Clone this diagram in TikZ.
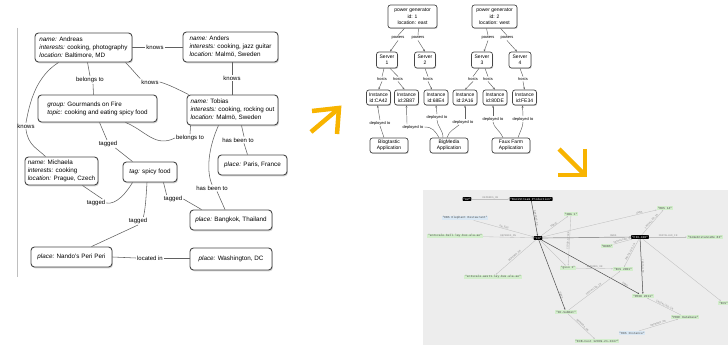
\documentclass[tikz,border=0pt]{standalone}
\usepackage{fontspec}
\setmainfont{Liberation Sans}
\setmonofont{Liberation Mono}
\usetikzlibrary{shadows,arrows.meta,calc}
\definecolor{amber}{HTML}{F8B400}
\definecolor{rgreen}{HTML}{D3EECC}
\definecolor{rblue}{HTML}{DAE8F4}
\definecolor{rbg}{HTML}{EDEDED}
\begin{document}
\begin{tikzpicture}[x=1pt,y=-1pt,
 lbox/.style={draw=black!72, line width=0.9pt, rounded corners=3.5pt, fill=white, drop shadow={opacity=0.35, shadow xshift=0.9pt, shadow yshift=-1.3pt}, font=\fontsize{6.3}{8}\selectfont, align=left, inner sep=1.5pt},
 llab/.style={font=\fontsize{6}{6.5}\selectfont, inner sep=1pt},
 led/.style={draw=black!62, line width=0.55pt},
 mbox/.style={draw=black!72, line width=0.7pt, rounded corners=2.5pt, fill=white, drop shadow={opacity=0.35, shadow xshift=0.7pt, shadow yshift=-1pt}, font=\fontsize{5}{6.1}\selectfont, align=center, inner sep=1pt},
 mlab/.style={font=\fontsize{4}{4.5}\selectfont, inner sep=0.8pt},
 med/.style={draw=black!62, line width=0.45pt},
 marr/.style={med, -{Stealth[length=2.4pt,width=1.8pt]}},
 rnode/.style={font=\fontsize{3}{3.4}\ttfamily, inner sep=0.8pt},
 rblack/.style={rnode, fill=black, text=white, rounded corners=0.6pt},
 rgr/.style={rnode, fill=rgreen, text=black!70},
 rbl/.style={rnode, fill=rblue, text=black!70},
 rline/.style={draw=black!25, line width=0.35pt, -{Stealth[length=1.6pt,width=1.2pt]}},
 rdark/.style={draw=black!70, line width=0.5pt, -{Stealth[length=1.8pt,width=1.4pt]}},
 rlab/.style={font=\fontsize{2.6}{2.8}\ttfamily, text=black!45, inner sep=0.3pt, sloped, above},
 amb/.style={draw=amber, line width=4.5pt, line join=miter, line cap=butt}
]
\useasboundingbox (0,0) rectangle (728,347);
\fill[white] (0,0) rectangle (728,347);
\draw[black!25, line width=0.6pt] (17,28) -- (17,277);

% ---------- left graph ----------
\node[lbox, minimum width=97pt, minimum height=29pt] (andreas) at (83.5,47.5) {\textit{name:} Andreas\\\textit{interests:} cooking, photography\\\textit{location:} Baltimore, MD};
\node[lbox, minimum width=95pt, minimum height=30pt] (anders) at (230.5,47) {\textit{name:} Anders\\\textit{interests:} cooking, jazz guitar\\\textit{location:} Malmö, Sweden};
\node[lbox, minimum width=119pt, minimum height=27pt] (group) at (97.5,108.5) {\textit{group:} Gourmands on Fire\\\textit{topic:} cooking and eating spicy food};
\node[lbox, minimum width=91pt, minimum height=30pt] (tobias) at (232.5,110) {\textit{name:} Tobias\\\textit{interests:} cooking, rocking out\\\textit{location:} Malmö, Sweden};
\node[lbox, minimum width=73pt, minimum height=28pt] (michaela) at (61.5,171) {\textit{name:} Michaela\\\textit{interests:} cooking\\\textit{location:} Prague, Czech};
\node[lbox, minimum width=54pt, minimum height=20pt] (tag) at (150,172) {\textit{tag:} spicy food};
\node[lbox, minimum width=69pt, minimum height=20pt] (paris) at (252.5,165) {\textit{place:} Paris, France};
\node[lbox, minimum width=82pt, minimum height=20pt] (bangkok) at (231,220) {\textit{place:} Bangkok, Thailand};
\node[lbox, minimum width=81pt, minimum height=20pt] (nandos) at (71.5,257) {\textit{place:} Nando's Peri Peri};
\node[lbox, minimum width=82pt, minimum height=22pt] (washington) at (231,259) {\textit{place:} Washington, DC};

\node[llab] (k1) at (155,47) {knows};
\node[llab] (bel1) at (90,80) {belongs to};
\node[llab] (k2) at (150,82) {knows};
\node[llab] (k3) at (232,78) {knows};
\node[llab] (k4) at (26,126) {knows};
\node[llab] (tg1) at (108,144) {tagged};
\node[llab] (bel2) at (190,138) {belongs to};
\node[llab] (hb1) at (238,140) {has been to};
\node[llab] (hb2) at (212,188) {has been to};
\node[llab] (tg2) at (173,199) {tagged};
\node[llab] (tg3) at (96,203) {tagged};
\node[llab] (tg4) at (138,221) {tagged};
\node[llab] (loc) at (150,258) {located in};

\draw[led] (k1.west -| andreas.east) -- (k1.west) (k1.east) -- (k1.east -| anders.west);
\draw[led] ([xshift=4pt]andreas.south) -- (bel1.north);
\draw[led] ([xshift=3pt]bel1.south) -- ([xshift=-4pt]group.north);
\draw[led] ([xshift=-7pt]andreas.south east) .. controls +(6,6) and +(-4,-4) .. (k2.north west);
\draw[led] (k2.east) .. controls +(8,2) and +(-8,-4) .. ([xshift=2pt]tobias.north west);
\draw[led] (k3.north) -- (k3.north |- anders.south);
\draw[led] (k3.south) -- (k3.south |- tobias.north);
\draw[led] ([xshift=24pt]andreas.south west) .. controls +(-22,14) and +(4,-22) .. (k4.north);
\draw[led] (k4.south) .. controls +(2,16) and +(-8,-8) .. ([xshift=-16pt]michaela.north);
\draw[led] ([xshift=2pt]group.south) -- ([xshift=-1pt]tg1.north);
\draw[led] ([xshift=-3pt]tg1.south east) -- ([xshift=10pt]tag.north west);
\draw[led] ([xshift=-32pt]group.south east) .. controls +(20,8) and +(-20,10) .. (bel2.west);
\draw[led] (bel2.north) -- ([xshift=4pt]tobias.south west);
\draw[led] ([xshift=9pt]tobias.south) -- ([xshift=6pt]hb1.north);
\draw[led] ([xshift=6pt]hb1.south) -- ([xshift=-5pt]paris.north);
\draw[led] ([xshift=-14pt]tobias.south) .. controls +(-10,22) and +(-6,-14) .. (hb2.north);
\draw[led] ([xshift=5pt]hb2.south) -- ([xshift=-6pt]bangkok.north);
\draw[led] ([xshift=-14pt]tag.south east) -- ([xshift=4pt]tg2.north west);
\draw[led] (tg2.east) -- ([xshift=12pt]bangkok.north west);
\draw[led] ([xshift=-16pt]michaela.south east) -- ([xshift=-4pt]tg3.north east);
\draw[led] (tg3.east) .. controls +(10,2) and +(-6,10) .. ([xshift=10pt]tag.south west);
\draw[led] ([xshift=-3pt]tag.south) .. controls +(-1,16) and +(2,-8) .. ([xshift=-5pt]tg4.north east);
\draw[led] (tg4.south) -- ([xshift=20pt]nandos.north);
\draw[led] (nandos.east) -- (loc.west);
\draw[led] (loc.east) -- (loc.east -| washington.west);

% ---------- orange arrows ----------
\draw[amb] (312,111) -- (339,108) -- (337,134);
\draw[amb] (311,132) -- (337,110);
\draw[amb] (585,149) -- (585,175) -- (558,175);
\draw[amb] (559,149) -- (583,173);

% ---------- middle graph ----------
\node[mbox, minimum width=49pt, minimum height=23pt] (pg1) at (412.5,16.5) {power generator\\id: 1\\location: east};
\node[mbox, minimum width=45pt, minimum height=23pt] (pg2) at (494.5,16.5) {power generator\\id: 2\\location: west};
\node[mbox, minimum width=21pt, minimum height=16pt] (s1) at (387,60) {Server\\1};
\node[mbox, minimum width=21pt, minimum height=16pt] (s2) at (425,60) {Server\\2};
\node[mbox, minimum width=21pt, minimum height=16pt] (s3) at (482,60) {Server\\3};
\node[mbox, minimum width=22pt, minimum height=16pt] (s4) at (520,60) {Server\\4};
\node[mbox, minimum width=24pt, minimum height=15pt] (ca) at (378.5,97.5) {Instance\\id:CA42};
\node[mbox, minimum width=24pt, minimum height=15pt] (bb) at (406.5,97.5) {Instance\\id:2B87};
\node[mbox, minimum width=24pt, minimum height=15pt] (ee) at (436,97.5) {Instance\\id:68E4};
\node[mbox, minimum width=24pt, minimum height=15pt] (aa) at (465,97.5) {Instance\\id:2A16};
\node[mbox, minimum width=24pt, minimum height=15pt] (dd) at (495,97.5) {Instance\\id:80DE};
\node[mbox, minimum width=24pt, minimum height=15pt] (ff) at (524.5,97.5) {Instance\\id:FE34};
\node[mbox, minimum width=38pt, minimum height=15pt] (blog) at (389,145.5) {Blogtastic\\Application};
\node[mbox, minimum width=38pt, minimum height=15pt] (big) at (449,145.5) {BigMedia\\Application};
\node[mbox, minimum width=38pt, minimum height=15pt] (faux) at (511,145.5) {Faux Farm\\Application};

\node[mlab] (p1) at (398,38) {powers};
\node[mlab] (p2) at (418,38) {powers};
\node[mlab] (p3) at (488,38) {powers};
\node[mlab] (p4) at (507,38) {powers};
\node[mlab] (h1) at (382,79) {hosts};
\node[mlab] (h2) at (398,79) {hosts};
\node[mlab] (h3) at (428,79) {hosts};
\node[mlab] (h4) at (473,79) {hosts};
\node[mlab] (h5) at (488,79) {hosts};
\node[mlab] (h6) at (523,79) {hosts};
\node[mlab] (d1) at (380,123) {deployed to};
\node[mlab] (d2) at (413,127) {deployed to};
\node[mlab] (d3) at (437,117) {deployed to};
\node[mlab] (d4) at (463,122) {deployed to};
\node[mlab] (d5) at (493,119) {deployed to};
\node[mlab] (d6) at (523,119) {deployed to};

\draw[med] ([xshift=-8pt]pg1.south) -- (p1.north);
\draw[marr] (p1.south) -- ([xshift=3pt]s1.north);
\draw[med] ([xshift=6pt]pg1.south) -- (p2.north);
\draw[marr] (p2.south) -- (s2.north);
\draw[med] ([xshift=-8pt]pg2.south) -- (p3.north);
\draw[marr] (p3.south) -- ([xshift=2pt]s3.north);
\draw[med] ([xshift=6pt]pg2.south) -- (p4.north);
\draw[marr] (p4.south) -- ([xshift=-3pt]s4.north);

\draw[med] ([xshift=-3pt]s1.south) -- (h1.north);
\draw[marr] (h1.south) -- (ca.north);
\draw[med] ([xshift=3pt]s1.south) -- (h2.north);
\draw[marr] (h2.south) -- ([xshift=-2pt]bb.north);
\draw[med] (s2.south) -- (h3.north);
\draw[marr] (h3.south) -- ([xshift=-4pt]ee.north);
\draw[med] ([xshift=-3pt]s3.south) -- (h4.north);
\draw[marr] (h4.south) -- (aa.north);
\draw[med] ([xshift=3pt]s3.south) -- (h5.north);
\draw[marr] (h5.south) -- (dd.north);
\draw[med] (s4.south) -- (h6.north);
\draw[marr] (h6.south) -- (ff.north);

\draw[med] ([xshift=-5pt]blog.north) -- (d1.south);
\draw[marr] (d1.north) -- ([xshift=-1pt]ca.south);
\draw[med] ([xshift=-10pt]big.north) .. controls +(-4,-7) and +(8,0) .. (d2.east);
\draw[marr] ([xshift=-6pt]d2.north) .. controls +(0,-6) and +(0,8) .. (bb.south);
\draw[med] ([xshift=-6pt]big.north) .. controls +(0,-8) and +(0,6) .. (d3.south);
\draw[marr] (d3.north) -- (ee.south);
\draw[med] ([xshift=-2pt]big.north) .. controls +(2,-7) and +(-4,4) .. ([xshift=-4pt]d4.south);
\draw[marr] ([xshift=2pt]d4.north) -- (aa.south);
\draw[med] ([xshift=-8pt]faux.north) .. controls +(-2,-6) and +(0,5) .. (d5.south);
\draw[marr] (d5.north) -- ([xshift=-2pt]dd.south);
\draw[med] ([xshift=7pt]faux.north) .. controls +(2,-6) and +(0,5) .. (d6.south);
\draw[marr] (d6.north) -- ([xshift=-2pt]ff.south);

% ---------- right graph ----------
\begin{scope}
\clip (423,190) rectangle (728,345);
\fill[rbg] (423,190) rectangle (728,345);
\node[rblack] (rAZ) at (467,199) {"AZ"};
\node[rblack] (rBook) at (531,199) {"BookStream Production"};
\node[rbl] (rEBS) at (465,218) {"EBS Elephant Restaurant"};
\node[rgr] (rBell) at (455,236) {"ec2scale-bell.lay.bus.ala.ae"};
\node[rblack] (rC) at (538,238) {"IO"};
\node[rgr] (rSBG) at (571,214) {"SBG 1"};
\node[rgr] (rRDS14) at (665,208) {"RDS 14"};
\node[rblack] (rFIX) at (640,237) {"FIX-C2D"};
\node[rgr] (rSome) at (705,237) {"SomeInstanceRe 83"};
\node[rgr] (rBOBS) at (607,246) {"BOBS"};
\node[rgr] (rWest) at (493,277) {"ec2scale-west1.lay.bus.ala.ae"};
\node[rgr] (rGsso) at (568,268) {"gsso 1"};
\node[rgr] (rECS) at (623,269) {"ECS 2001"};
\node[rgr] (rProd) at (643,296) {"PROD 2011"};
\node[rgr] (rSub) at (566,312) {"ID-SubNet"};
\node[rgr] (rProf) at (685,317) {"PROF Database"};
\node[rbl] (rRDSi) at (632,333) {"RDS Instance"};
\node[rgr] (rECB) at (597,341) {"ECB-Cust 12039-21-2347"};
\node[rgr, anchor=west] (rE) at (718,303) {"ECS"};

\draw[rline] (rAZ) -- node[rlab]{DEPENDS\_ON} (rBook);
\draw[rdark] (rBook) -- node[rlab]{DEPENDS\_ON} (rC);
\draw[rline] (rEBS) -- node[rlab]{ON\_EBS} (rC);
\draw[rline] (rBell) -- node[rlab]{DEPENDS\_ON} (rC);
\draw[rline] (rC) -- node[rlab]{SERVE} (rSBG);
\draw[rline] (rSBG) -- node[rlab]{CLOUD\_STACK} (rGsso);
\draw[rline, line width=0.7pt, draw=black!40] (rC) -- node[rlab, pos=0.8]{OWNS} (rFIX);
\draw[rline] (rC) -- node[rlab, pos=0.85]{OWNS} (rRDS14);
\draw[rline] (rFIX) -- node[rlab]{INSTALLED\_IN} (rRDS14);
\draw[rline] (rFIX) -- node[rlab]{INSTALLED\_IN} (rSome);
\draw[rline] (rBOBS) -- node[rlab]{INSTALLED\_IN} (rFIX);
\draw[rline] (rC) -- node[rlab]{DEPENDS\_ON} (rWest);
\draw[rline] (rC) -- (rGsso);
\draw[rdark] (rC) -- node[rlab, pos=0.8]{OWNS} (rSub);
\draw[rdark] (rC) -- node[rlab, pos=0.85]{OWNS} (rProd);
\draw[rdark] (rFIX) -- node[rlab]{INSTALLED} (rProd);
\draw[rline] (rFIX) -- node[rlab]{INSTALLED\_IN} (rECS);
\draw[rline] (rGsso) -- node[rlab]{DEPENDS\_ON} (rECS);
\draw[rline] (rSub) -- node[rlab]{INSTALLED\_IN} (rECS);
\draw[rline] (rProf) -- node[rlab]{INSTALLED\_IN} (rProd);
\draw[rline] (rRDSi) -- node[rlab]{DEPENDS\_ON} (rProf);
\draw[rline] (rSub) -- node[rlab]{DEPENDS\_ON} (rECB);
\draw[rline] (rFIX) -- (rE);
\end{scope}
\end{tikzpicture}
\end{document}
